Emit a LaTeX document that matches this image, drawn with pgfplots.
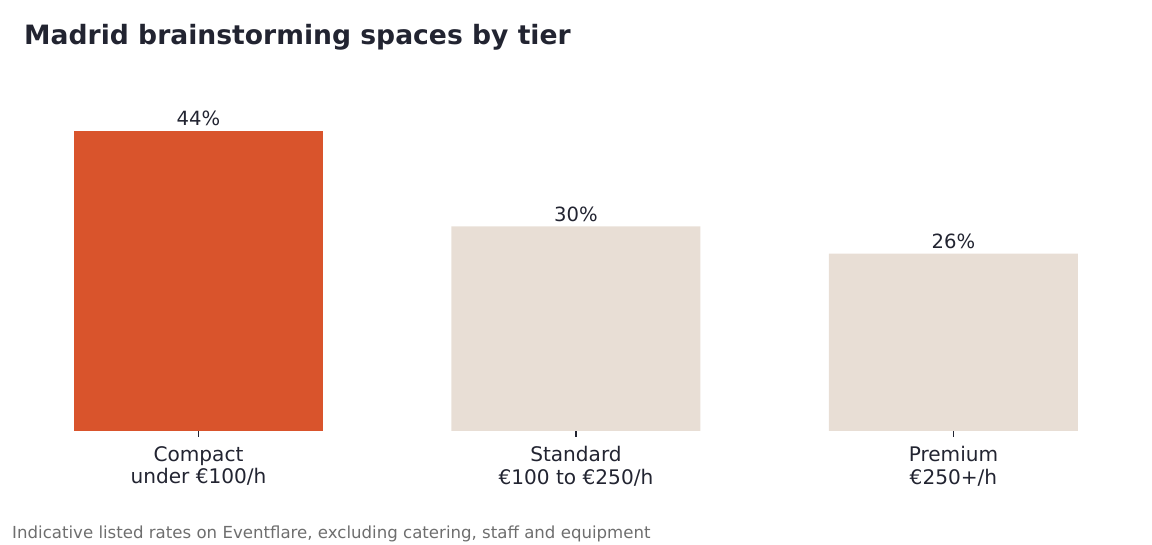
\documentclass[border=0pt]{standalone}
\usepackage{fontspec}
\setmainfont{DejaVu Sans}
\usepackage{pgfplots}
\pgfplotsset{compat=1.18}
\definecolor{accent}{HTML}{D9542C}
\definecolor{muted}{HTML}{E8DED5}
\definecolor{ink}{HTML}{222431}
\definecolor{note}{HTML}{6E6E6E}
\begin{document}
\begin{tikzpicture}
\path[use as bounding box] (0,0) rectangle (1152pt,544pt);
\begin{axis}[
    at={(9.75pt,113pt)}, anchor=south west,
    scale only axis,
    width=1132.5pt, height=327.3pt,
    xmin=-0.5, xmax=2.5,
    ymin=0, ymax=48,
    axis y line=none,
    axis x line*=bottom,
    x axis line style={draw=none},
    xtick={0,1,2},
    xticklabels={{Compact\\under €100/h},{Standard\\€100 to €250/h},{Premium\\€250+/h}},
    tick align=outside,
    major tick length=6pt,
    tick style={ink, line width=1.2pt},
    x tick label style={font=\fontsize{20.1}{22.5}\selectfont, text=ink, align=center, yshift=-6pt},
    ybar, bar width=249pt, bar shift=0pt,
    /pgf/number format/assume math mode=true,
    nodes near coords={\pgfmathprintnumber{\pgfplotspointmeta}\%},
    nodes near coords style={font=\fontsize{19.6}{22}\selectfont, text=ink, anchor=base, yshift=5pt, inner sep=0pt},
]
\addplot[fill=accent, draw=none] coordinates {(0,44)};
\addplot[fill=muted, draw=none] coordinates {(1,30) (2,26)};
\end{axis}
\node[anchor=base west, inner sep=0pt, text=ink, font=\fontsize{26.6}{30}\selectfont\bfseries] at (24pt,499.5pt) {Madrid brainstorming spaces by tier};
\node[anchor=base west, inner sep=0pt, text=note, font=\fontsize{16.6}{19}\selectfont] at (12pt,6pt) {Indicative listed rates on Eventflare, excluding catering, staff and equipment};
\end{tikzpicture}
\end{document}
